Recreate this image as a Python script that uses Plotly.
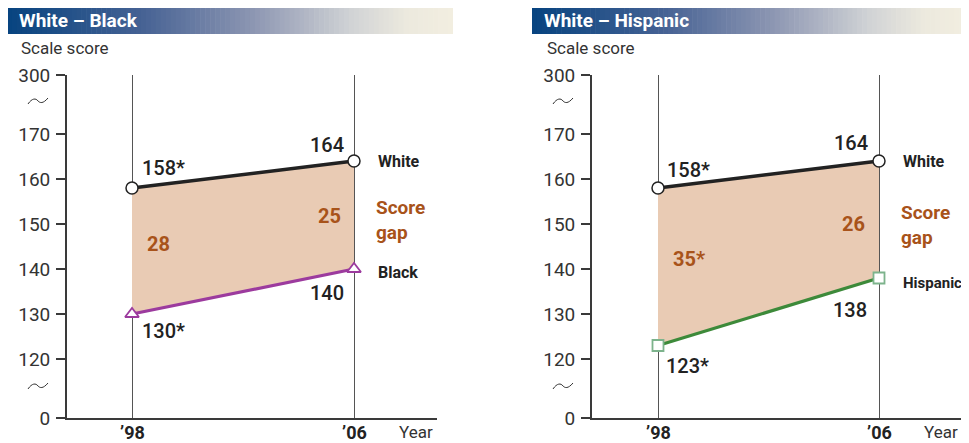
import plotly.graph_objects as go

# ---------------- data ----------------
years = [1998, 2006]
year_labels = ["’98", "’06"]
white_scores = [158, 164]
black_scores = [130, 140]
hispanic_scores = [123, 138]
white_text_wb = ["158*", "164"]
black_text = ["130*", "140"]
white_text_wh = ["158*", "164"]
hispanic_text = ["123*", "138"]
gap_wb = ["28", "25"]
gap_wh = ["35*", "26"]
ytick_vals_linear = [120, 130, 140, 150, 160, 170]
ytick_labels = ["0", "120", "130", "140", "150", "160", "170", "300"]

# page body has an 8px margin: the figure is drawn at (8, 8)
OFF = 8
W, H = 969 - OFF, 443 - OFF
PX_PER_UNIT = 4.5
Y_LO = 120 - (418 - 359) / PX_PER_UNIT   # position standing for 0 (broken axis)
Y_HI = 170 + (134 - 75) / PX_PER_UNIT    # position standing for 300
ytick_vals = [Y_LO] + ytick_vals_linear + [Y_HI]

def px(x):
    return max(0.0, min(1.0, (x - OFF) / W))

def py(y):
    return max(0.0, min(1.0, 1 - (y - OFF) / H))

FILL = "#e9cbb4"
BROWN = "#a8531a"
DARK = "#222222"
AXIS = "#3a3a3a"
PURPLE = "#9c3b9e"
GREEN = "#3d8a3a"
SQ = "#7db38c"
FONT = "Roboto, Liberation Sans, Arial"

fig = go.Figure()

def panel(xa, ya, upper, lower, lower_color, lower_symbol, lower_edge, upper_txt, lower_txt, gaps,
          lower_name, lower_name_size, shifts):
    fig.add_trace(go.Scatter(
        x=years + years[::-1], y=upper + lower[::-1], fill="toself",
        fillcolor=FILL, line=dict(width=0), mode="lines", hoverinfo="skip",
        xaxis=xa, yaxis=ya, showlegend=False))
    fig.add_trace(go.Scatter(
        x=years, y=lower, mode="lines+markers", xaxis=xa, yaxis=ya, showlegend=False,
        line=dict(color=lower_color, width=3.2),
        marker=dict(symbol=lower_symbol, size=12 if lower_symbol == "triangle-up" else 11,
                    color="white", line=dict(color=lower_edge, width=1.8))))
    fig.add_trace(go.Scatter(
        x=years, y=upper, mode="lines+markers", xaxis=xa, yaxis=ya, showlegend=False,
        line=dict(color=DARK, width=3.5),
        marker=dict(symbol="circle", size=12, color="white", line=dict(color=DARK, width=1.5))))

    xr = "x" if xa == "x" else "x2"
    yr = "y" if ya == "y" else "y2"
    vfont = dict(family=FONT, size=20, color=DARK, weight=500)
    nfont = dict(family=FONT, size=16, color=DARK, weight="bold")
    gfont = dict(family=FONT, size=20, color=BROWN, weight="bold")
    s = shifts
    def ann(x, y, text, font, xanchor, xs, ys):
        fig.add_annotation(x=x, y=y, xref=xr, yref=yr, text=text, font=font, showarrow=False,
                           xanchor=xanchor, yanchor="middle", xshift=xs, yshift=ys)
    ann(years[0], upper[0], upper_txt[0], vfont, "left", *s["u0"])
    ann(years[1], upper[1], upper_txt[1], vfont, "right", *s["u1"])
    ann(years[0], lower[0], lower_txt[0], vfont, "left", *s["l0"])
    ann(years[1], lower[1], lower_txt[1], vfont, "right", *s["l1"])
    ann(years[1], upper[1], "White", nfont, "left", *s["nw"])
    ann(years[1], lower[1], lower_name, dict(nfont, size=lower_name_size), "left", *s["nl"])
    ann(years[0], (upper[0] + lower[0]) / 2, gaps[0], gfont, "left", *s["g0"])
    ann(years[1], (upper[1] + lower[1]) / 2, gaps[1], gfont, "right", *s["g1"])
    fig.add_annotation(x=years[1], y=(upper[1] + lower[1]) / 2, xref=xr, yref=yr,
                       text="Score<br>gap", font=dict(gfont, size=19), showarrow=False, align="left",
                       xanchor="left", yanchor="middle", xshift=s["sg"][0], yshift=s["sg"][1])
    # year labels under the axis
    for yv, lab in zip(years, year_labels):
        fig.add_annotation(x=yv, y=py(432), xref=xr, yref="paper", text="<b>%s</b>" % lab,
                           font=dict(family=FONT, size=18, color=DARK), showarrow=False,
                           xanchor="center", yanchor="middle")

panel("x", "y", white_scores, black_scores, PURPLE, "triangle-up", PURPLE,
      white_text_wb, black_text, gap_wb, "Black", 16,
      dict(u0=(8, 20), u1=(-8, 16), l0=(8, -17), l1=(-8, -24), nw=(22, 0), nl=(22, -3),
           g0=(13, 7), g1=(-11, -1), sg=(20, -5)))
panel("x2", "y2", white_scores, hispanic_scores, GREEN, "square", SQ,
      white_text_wh, hispanic_text, gap_wh, "Hispanic", 15,
      dict(u0=(7, 18), u1=(-9, 18), l0=(6, -20), l1=(-10, -32), nw=(22, 0), nl=(22, -5),
           g0=(13, 8), g1=(-12, -4), sg=(20, -5)))

ydom = [py(418), py(75)]
xcommon = dict(tickvals=years, showticklabels=False,
               showgrid=True, gridcolor="#555555", gridwidth=1,
               showline=True, linecolor=AXIS, linewidth=1.8, zeroline=False,
               ticks="", fixedrange=True, automargin=False)
ycommon = dict(range=[Y_LO, Y_HI], tickvals=ytick_vals, ticktext=ytick_labels,
               showgrid=False, showline=True, linecolor=AXIS, linewidth=1.8, zeroline=False,
               ticks="outside", ticklen=9, tickwidth=1.5, tickcolor=AXIS,
               tickfont=dict(family=FONT, size=19, color="#333333"), ticklabelstandoff=2,
               domain=ydom, fixedrange=True, automargin=False)

x1_left, x1_right = 67, 437
x2_left, x2_right = 592, 963
ppy1 = (354 - 132) / 8
ppy2 = (879 - 658) / 8

fig.update_layout(
    width=W, height=H, margin=dict(l=0, r=0, t=0, b=0, pad=0, autoexpand=False),
    paper_bgcolor="white", plot_bgcolor="rgba(0,0,0,0)",
    xaxis=dict(xcommon, domain=[px(x1_left), px(x1_right)],
               range=[1998 - (132 - x1_left) / ppy1, 2006 + (x1_right - 354) / ppy1], anchor="y"),
    yaxis=dict(ycommon, anchor="x"),
    xaxis2=dict(xcommon, domain=[px(x2_left), px(x2_right)],
                range=[1998 - (658 - x2_left) / ppy2, 2006 + (x2_right - 879) / ppy2], anchor="y2"),
    yaxis2=dict(ycommon, anchor="x2"),
)

# header bars with gradient stripes
stops = [(0.0, (8, 68, 128)), (0.3, (70, 98, 148)), (0.55, (140, 150, 178)),
         (0.78, (210, 212, 214)), (0.9, (236, 233, 222)), (1.0, (242, 238, 224))]

def grad(t):
    for (t0, c0), (t1, c1) in zip(stops[:-1], stops[1:]):
        if t <= t1:
            f = (t - t0) / (t1 - t0)
            return "rgb(%d,%d,%d)" % tuple(round(a + (b - a) * f) for a, b in zip(c0, c1))
    return "rgb(%d,%d,%d)" % stops[-1][1]

shapes = []
for x0, x1, title in [(7, 453, "White – Black"), (532, 969, "White – Hispanic")]:
    n = 90
    for i in range(n):
        a = x0 + (x1 - x0) * i / n
        b = x0 + (x1 - x0) * (i + 1) / n + 0.6
        shapes.append(dict(type="rect", xref="paper", yref="paper", x0=px(a), x1=px(min(b, x1)),
                           y0=py(34), y1=py(7), fillcolor=grad(i / (n - 1)), line=dict(width=0),
                           layer="below"))
    fig.add_annotation(x=px(x0 + 10), y=py(20.5), xref="paper", yref="paper", text="<b>%s</b>" % title,
                       font=dict(family=FONT, size=19, color="white"), showarrow=False,
                       xanchor="left", yanchor="middle")

# axis break marks
def brk(cx, cy):
    pts = [(cx - 10, cy + 3), (cx - 6, cy - 3), (cx - 2, cy - 3), (cx + 2, cy + 2), (cx + 5, cy + 3), (cx + 10, cy - 3)]
    d = "M %f,%f C %f,%f %f,%f %f,%f C %f,%f %f,%f %f,%f" % (
        px(pts[0][0]), py(pts[0][1]), px(pts[1][0]), py(pts[1][1]), px(pts[2][0]), py(pts[2][1]),
        px(cx), py(cy), px(pts[3][0]), py(pts[3][1]), px(pts[4][0]), py(pts[4][1]),
        px(pts[5][0]), py(pts[5][1]))
    return dict(type="path", xref="paper", yref="paper", path=d, line=dict(color="#333333", width=1))

for axx in (38, 563):
    shapes.append(brk(axx, 101))
    shapes.append(brk(axx, 386))
fig.update_layout(shapes=shapes)

# axis titles
for sx, yx in [(19, 397), (545, 922)]:
    fig.add_annotation(x=px(sx), y=py(48), xref="paper", yref="paper", text="Scale score",
                       font=dict(family=FONT, size=17, color="#333333"), showarrow=False,
                       xanchor="left", yanchor="middle")
    fig.add_annotation(x=px(yx), y=py(432), xref="paper", yref="paper", text="Year",
                       font=dict(family=FONT, size=17, color="#333333"), showarrow=False,
                       xanchor="left", yanchor="middle")

fig.write_html("out.html")
